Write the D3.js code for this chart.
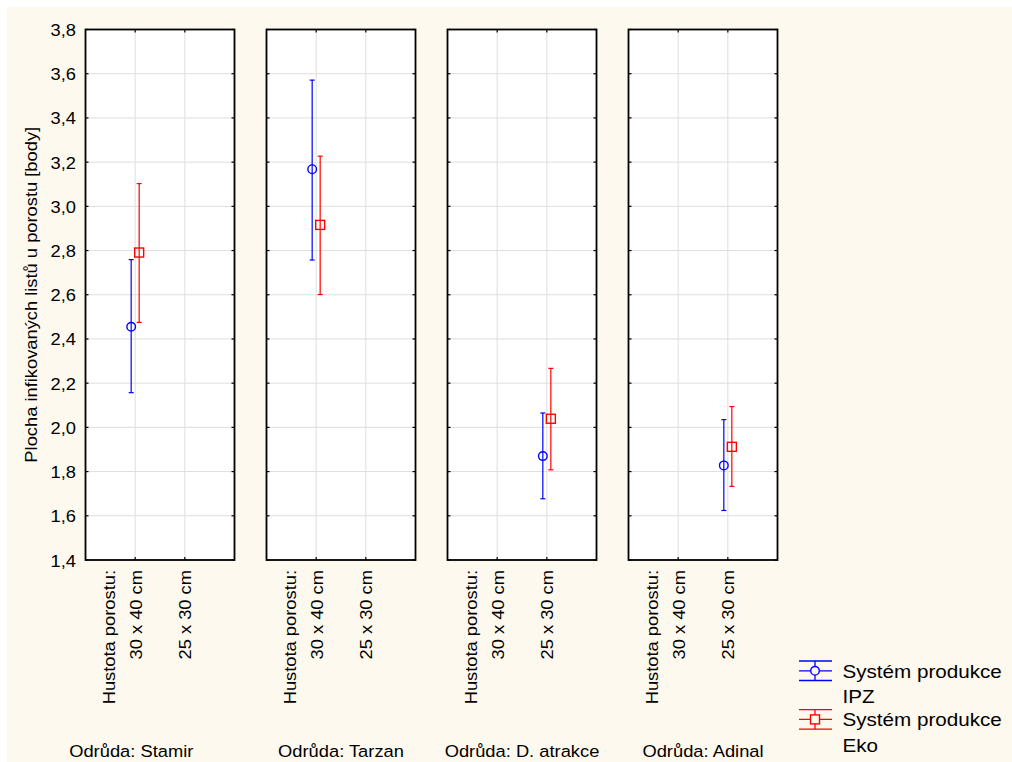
<!DOCTYPE html>
<html>
<head>
    <meta charset="utf-8">
    <title>Plocha infikovaných listů</title>
    <style>
        body { margin: 0; background: #fff; }
        text { font-family: "Liberation Sans", Arial, sans-serif; fill: #000; }
    </style>
</head>
<body>
<script src="https://cdn.jsdelivr.net/npm/d3@7/dist/d3.min.js"></script>
<script>
    var width = 1012,
        height = 762;

    // data
    var varieties = ["Stamir", "Tarzan", "D. atrakce", "Adinal"];
    var densities = ["30 x 40 cm", "25 x 30 cm"];
    var densityOf = ["30 x 40 cm", "30 x 40 cm", "25 x 30 cm", "25 x 30 cm"]; // which density each variety was measured at
    var ipzMean = [2.455, 3.168, 1.870, 1.828],
        ipzLow = [2.157, 2.757, 1.677, 1.624],
        ipzHigh = [2.759, 3.571, 2.065, 2.035];
    var ekoMean = [2.791, 2.916, 2.039, 1.912],
        ekoLow = [2.475, 2.601, 1.808, 1.733],
        ekoHigh = [3.103, 3.227, 2.267, 2.094];
    var yTicks = [1.4, 1.6, 1.8, 2.0, 2.2, 2.4, 2.6, 2.8, 3.0, 3.2, 3.4, 3.6, 3.8];

    var series = [
        {name: "IPZ", color: "#0000ff", shape: "circle", offset: -4, mean: ipzMean, low: ipzLow, high: ipzHigh},
        {name: "Eko", color: "#ff0000", shape: "square", offset: 4, mean: ekoMean, low: ekoLow, high: ekoHigh}
    ];

    var stretch = 1.11; // the original font is drawn a little wider than Arial

    var svg = d3.select("body").append("svg")
        .attr("width", width)
        .attr("height", height);

    svg.append("rect")
        .attr("x", 7).attr("y", 7)
        .attr("width", width - 7).attr("height", height - 7)
        .attr("fill", "#fef9ee");

    function label(sel, x, y, rot, anchor, size, str) {
        return sel.append("text")
            .attr("transform", "translate(" + x + "," + y + ") rotate(" + rot + ") scale(" + stretch + ",1)")
            .attr("text-anchor", anchor)
            .style("font-size", size + "px")
            .text(str);
    }

    var fmt = function (v) { return d3.format(".1f")(v).replace(".", ","); };

    var panel = d3.scaleBand()
        .domain(varieties)
        .range([85.5, 777.5])
        .paddingInner(32 / 181);

    var x = d3.scalePoint()
        .domain(densities)
        .range([0, panel.bandwidth()])
        .padding(1);

    var y = d3.scaleLinear()
        .domain([1.4, 3.8])
        .range([560, 29.5]);

    // y tick labels
    yTicks.forEach(function (t) {
        label(svg, 76, y(t) + 6.5, 0, "end", 16.5, fmt(t));
    });

    label(svg, 37, (y.range()[0] + y.range()[1]) / 2, -90, "middle", 16.5,
        "Plocha infikovaných listů u porostu [body]");

    varieties.forEach(function (v, i) {
        var g = svg.append("g").attr("transform", "translate(" + panel(v) + ",0)");
        var bw = panel.bandwidth();

        g.append("rect")
            .attr("x", 0).attr("y", y(3.8))
            .attr("width", bw).attr("height", y(1.4) - y(3.8))
            .attr("fill", "#fff");

        // grid
        g.selectAll(".hg").data(yTicks.slice(1, -1)).enter().append("line")
            .attr("x1", 0).attr("x2", bw)
            .attr("y1", function (d) { return y(d); })
            .attr("y2", function (d) { return y(d); })
            .attr("stroke", "#dedede").attr("stroke-width", 1);
        g.selectAll(".vg").data(densities).enter().append("line")
            .attr("x1", function (d) { return x(d); })
            .attr("x2", function (d) { return x(d); })
            .attr("y1", y(3.8)).attr("y2", y(1.4))
            .attr("stroke", "#dedede").attr("stroke-width", 1);

        // inward ticks
        yTicks.forEach(function (t) {
            g.append("line").attr("x1", 0).attr("x2", 3).attr("y1", y(t)).attr("y2", y(t))
                .attr("stroke", "#000").attr("stroke-width", 1.2);
            g.append("line").attr("x1", bw - 3).attr("x2", bw).attr("y1", y(t)).attr("y2", y(t))
                .attr("stroke", "#000").attr("stroke-width", 1.2);
        });
        densities.forEach(function (d) {
            g.append("line").attr("x1", x(d)).attr("x2", x(d)).attr("y1", y(1.4)).attr("y2", y(1.4) - 3)
                .attr("stroke", "#000").attr("stroke-width", 1.2);
            g.append("line").attr("x1", x(d)).attr("x2", x(d)).attr("y1", y(3.8)).attr("y2", y(3.8) + 3)
                .attr("stroke", "#000").attr("stroke-width", 1.2);
        });

        g.append("rect")
            .attr("x", 0).attr("y", y(3.8))
            .attr("width", bw).attr("height", y(1.4) - y(3.8))
            .attr("fill", "none")
            .attr("stroke", "#000").attr("stroke-width", 1.8);

        // error bars + means
        series.forEach(function (s) {
            var cx = x(densityOf[i]) + s.offset;
            g.append("line")
                .attr("x1", cx).attr("x2", cx)
                .attr("y1", y(s.low[i])).attr("y2", y(s.high[i]))
                .attr("stroke", s.color).attr("stroke-width", 1.2);
            [s.low[i], s.high[i]].forEach(function (e) {
                g.append("line")
                    .attr("x1", cx - 2.5).attr("x2", cx + 2.5)
                    .attr("y1", y(e)).attr("y2", y(e))
                    .attr("stroke", s.color).attr("stroke-width", 1.2);
            });
            if (s.shape === "circle") {
                g.append("circle")
                    .attr("cx", cx).attr("cy", y(s.mean[i])).attr("r", 4.3)
                    .attr("fill", "none").attr("stroke", s.color).attr("stroke-width", 1.4);
            } else {
                g.append("rect")
                    .attr("x", cx - 4.5).attr("y", y(s.mean[i]) - 4.5)
                    .attr("width", 9).attr("height", 9)
                    .attr("fill", "none").attr("stroke", s.color).attr("stroke-width", 1.4);
            }
        });

        // category labels
        var top = y(1.4) + 10;
        label(g, x(densities[0]) - 20.5, top, -90, "end", 16.5, "Hustota porostu:");
        densities.forEach(function (d) {
            label(g, x(d) + 6.5, top, -90, "end", 16.5, d);
        });

        // panel caption (first one is centred under axis + panel)
        var capX = i === 0 ? (28 - panel(v) + bw) / 2 : bw / 2;
        label(g, capX, 757, 0, "middle", 16.5, "Odrůda: " + v);
    });

    // legend
    var leg = svg.append("g").attr("transform", "translate(799,661)");
    series.forEach(function (s, i) {
        var lg = leg.append("g").attr("transform", "translate(0," + (i * 48.6) + ")");
        [0, 9.8, 19.5].forEach(function (yy) {
            lg.append("line").attr("x1", 0).attr("x2", 33).attr("y1", yy).attr("y2", yy)
                .attr("stroke", s.color).attr("stroke-width", 1.3);
        });
        lg.append("line").attr("x1", 16).attr("x2", 16).attr("y1", 0).attr("y2", 19.5)
            .attr("stroke", s.color).attr("stroke-width", 1.3);
        if (s.shape === "circle") {
            lg.append("circle").attr("cx", 16).attr("cy", 9.8).attr("r", 4.3)
                .attr("fill", "#fef9ee").attr("stroke", s.color).attr("stroke-width", 1.4);
        } else {
            lg.append("rect").attr("x", 11.5).attr("y", 5.3).attr("width", 9).attr("height", 9)
                .attr("fill", "#fef9ee").attr("stroke", s.color).attr("stroke-width", 1.4);
        }
        label(lg, 43.5, 16.5, 0, "start", 18.6, "Systém produkce");
        label(lg, 43.5, 42, 0, "start", 18.6, s.name);
    });
</script>
</body>
</html>
